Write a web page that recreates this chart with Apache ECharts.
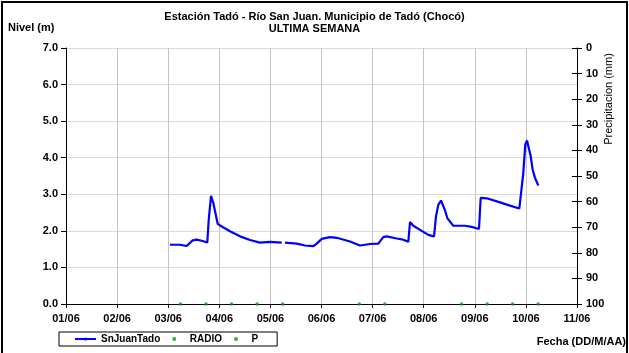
<!DOCTYPE html>
<html>
<head>
<meta charset="utf-8">
<script src="https://cdn.jsdelivr.net/npm/echarts@6/dist/echarts.min.js"></script>
<style>
  html, body { margin: 0; padding: 0; background: #fff; }
  #wrap { position: relative; width: 629px; height: 353px; overflow: hidden; }
  #chart { position: absolute; left: 0; top: 0; width: 629px; height: 353px; }
  #frame { position: absolute; left: 1px; top: 1px; width: 623px; height: 370px;
           border: 2px solid #000; pointer-events: none; }
</style>
</head>
<body>
<div id="wrap">
  <div id="chart"></div>
  <div id="frame"></div>
</div>
<script>
// Time in fractional days of June (3.5 = 03/06 12:00)
const levelDays = [
  3.035, 3.231, 3.362, 3.479, 3.558, 3.656, 3.765, 3.793, 3.838, 3.883,
  3.969, 4.047, 4.209, 4.405, 4.601, 4.796, 4.992, 5.221, 5.25, 5.286,
  5.515, 5.677, 5.840, 5.906, 6.004, 6.166, 6.297, 6.558, 6.753, 6.949,
  7.112, 7.209, 7.276, 7.472, 7.601, 7.699, 7.732, 7.797, 7.961, 8.090,
  8.202, 8.241, 8.286, 8.339, 8.372, 8.417, 8.462, 8.579, 8.808, 8.939,
  9.082, 9.115, 9.233, 9.493, 9.689, 9.871, 9.949, 9.988, 10.022, 10.047,
  10.094, 10.133, 10.178, 10.243
];
// River level (m); null = no reading
const levelValues = [
  1.62, 1.62, 1.585, 1.74, 1.76, 1.73, 1.68, 2.30, 2.96, 2.76,
  2.19, 2.12, 1.99, 1.85, 1.75, 1.68, 1.70, 1.68, null, 1.68,
  1.65, 1.60, 1.58, 1.65, 1.78, 1.83, 1.81, 1.71, 1.60, 1.64,
  1.65, 1.83, 1.85, 1.79, 1.76, 1.70, 2.24, 2.14, 2.00, 1.89,
  1.85, 2.40, 2.71, 2.83, 2.80, 2.56, 2.35, 2.14, 2.14, 2.11,
  2.05, 2.90, 2.89, 2.78, 2.69, 2.61, 3.58, 4.36, 4.47, 4.42,
  4.04, 3.67, 3.45, 3.24
];
// Radio reports (level 0)
const radioDays = [3.24, 3.74, 4.24, 4.74, 5.24, 6.74, 7.24, 8.74, 9.24, 9.74, 10.24];
const radioValues = [0, 0, 0, 0, 0, 0, 0, 0, 0, 0, 0];
// Precipitation (mm)
const precipDays = [];
const precipValues = [];

const FONT = '"Liberation Sans", Arial, sans-serif';
const pad2 = n => (n < 10 ? '0' : '') + n;

const levelData = levelDays.map((d, i) => [d, levelValues[i] === null ? '-' : levelValues[i]]);
const radioData = radioDays.map((d, i) => [d, radioValues[i]]);
const precipData = precipDays.map((d, i) => [d, precipValues[i]]);

const chart = echarts.init(document.getElementById('chart'), null, { renderer: 'canvas' });

const boldLabel = { color: '#000', fontFamily: FONT, fontWeight: 'bold', fontSize: 11 };

chart.setOption({
  animation: false,
  backgroundColor: '#fff',
  title: {
    text: 'Estación Tadó - Río San Juan. Municipio de Tadó (Chocó)\nULTIMA SEMANA',
    left: 'center',
    top: 6,
    textStyle: { fontFamily: FONT, fontWeight: 'bold', fontSize: 11, color: '#000', lineHeight: 12 }
  },
  grid: { left: 66, right: 52, top: 48, bottom: 49, outerBoundsMode: 'none', containLabel: false },
  legend: {
    left: 59,
    top: 332,
    orient: 'horizontal',
    padding: [2, 19, 2, 15],
    itemGap: 12,
    itemWidth: 21,
    itemHeight: 4,
    borderColor: '#000',
    borderWidth: 1,
    borderRadius: 0,
    textStyle: { fontFamily: FONT, fontWeight: 'bold', fontSize: 10, color: '#000' },
    data: [
      { name: 'SnJuanTado' },
      { name: 'RADIO', icon: 'circle' },
      { name: 'P', icon: 'circle' }
    ]
  },
  graphic: [
    {
      type: 'text', left: 8, top: 22,
      style: { text: 'Nivel (m)', fontFamily: FONT, fontWeight: 'bold', fontSize: 11, fill: '#000' }
    },
    {
      type: 'text', right: 3, top: 336,
      style: { text: 'Fecha (DD/M/AA)', fontFamily: FONT, fontWeight: 'bold', fontSize: 11, fill: '#000' }
    },
    {
      type: 'text', x: 609, y: 99, rotation: Math.PI / 2,
      style: { text: 'Precipitacion (mm)', fontFamily: FONT, fontSize: 11, fill: '#000', align: 'center', verticalAlign: 'middle' }
    }
  ],
  xAxis: {
    type: 'value',
    min: 1,
    max: 11,
    interval: 1,
    axisLine: { lineStyle: { color: '#000', width: 1 } },
    axisTick: { length: 4, lineStyle: { color: '#000' } },
    axisLabel: Object.assign({ margin: 9, formatter: v => pad2(v) + '/06' }, boldLabel),
    splitLine: { show: true, lineStyle: { color: '#c4c4c4', width: 1 } }
  },
  yAxis: [
    {
      type: 'value',
      min: 0,
      max: 7,
      interval: 1,
      position: 'left',
      axisLine: { show: true, lineStyle: { color: '#000', width: 1 } },
      axisTick: { show: true, length: 5, lineStyle: { color: '#000' } },
      axisLabel: Object.assign({ margin: 8, formatter: v => v.toFixed(1) }, boldLabel),
      splitLine: { show: true, lineStyle: { color: '#d9d9d9', width: 1 } }
    },
    {
      type: 'value',
      min: 0,
      max: 100,
      interval: 10,
      inverse: true,
      position: 'right',
      axisLine: { show: true, lineStyle: { color: '#000', width: 1 } },
      axisTick: { show: true, length: 5, lineStyle: { color: '#000' } },
      axisLabel: Object.assign({ margin: 9 }, boldLabel),
      splitLine: { show: false }
    },
    {
      // inner half of the crossing ticks on the precipitation axis
      type: 'value',
      min: 0,
      max: 100,
      interval: 10,
      inverse: true,
      position: 'right',
      axisLine: { show: false },
      axisTick: { show: true, inside: true, length: 5, lineStyle: { color: '#000' } },
      axisLabel: { show: false },
      splitLine: { show: false }
    }
  ],
  series: [
    {
      name: 'SnJuanTado',
      type: 'line',
      yAxisIndex: 0,
      data: levelData,
      showSymbol: false,
      symbol: 'none',
      connectNulls: false,
      lineStyle: { color: '#0000ff', width: 2.2 },
      itemStyle: { color: '#0000ff' },
      z: 5
    },
    {
      name: 'RADIO',
      type: 'scatter',
      yAxisIndex: 0,
      data: radioData,
      symbol: 'circle',
      symbolSize: 3.5,
      clip: false,
      itemStyle: { color: '#00a000' },
      z: 6
    },
    {
      name: 'P',
      type: 'scatter',
      yAxisIndex: 1,
      data: precipData,
      symbol: 'circle',
      symbolSize: 3.5,
      clip: false,
      itemStyle: { color: '#00a000' },
      z: 6
    }
  ]
});
</script>
</body>
</html>
